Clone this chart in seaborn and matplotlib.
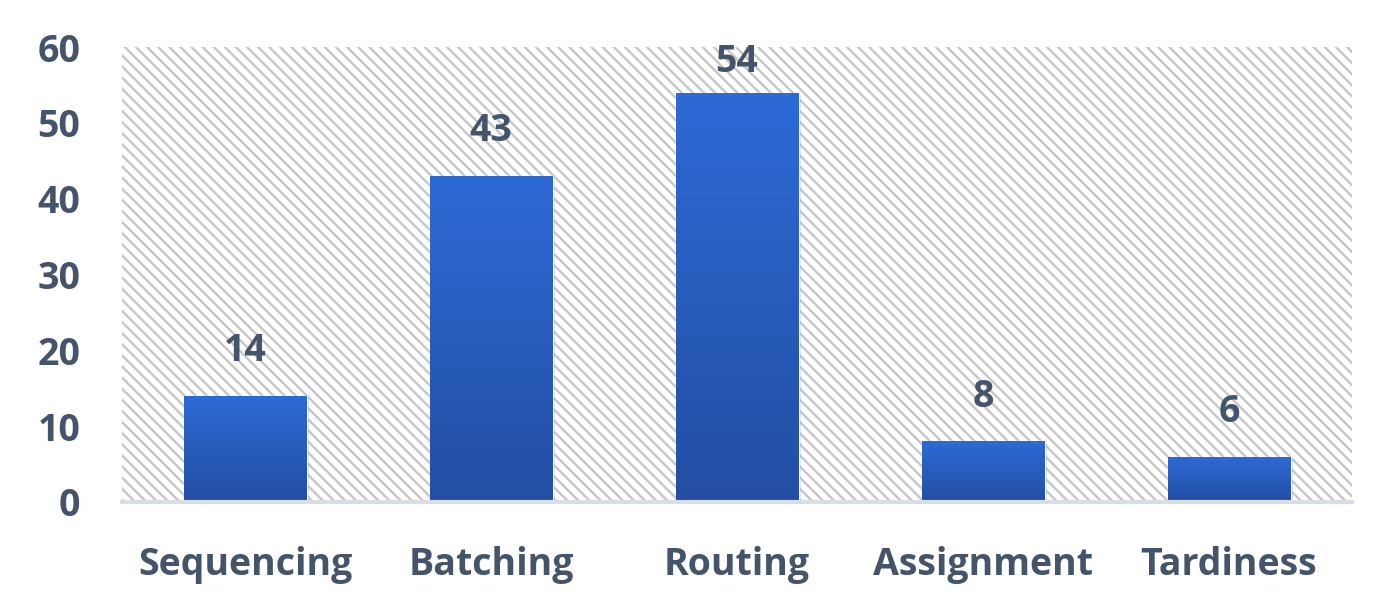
import numpy as np
import pandas as pd
import matplotlib.pyplot as plt
import matplotlib.colors as mcolors
import seaborn as sns

sns.set_theme(style="white")
plt.rcParams["font.family"] = ["Open Sans", "DejaVu Sans"]
plt.rcParams["hatch.linewidth"] = 1.7
plt.rcParams["hatch.color"] = "#c6c6c6"

# data
categories = ["Sequencing", "Batching", "Routing", "Assignment", "Tardiness"]
counts = [14, 43, 54, 8, 6]

TEXT = "#44546A"
YMAX = 60
df = pd.DataFrame({"category": categories, "count": counts})

fig = plt.figure(figsize=(13.77, 6.05), dpi=100)
ax = fig.add_axes([122 / 1377, 1 - 502 / 605, 1230 / 1377, 455 / 605])

sns.barplot(data=df, x="category", y="count", color="#2a5fc4",
            width=0.5, saturation=1, ax=ax, zorder=3)
bars = list(ax.patches)

# hatched background
ax.patch.set_facecolor("white")
bg = plt.Rectangle((0, 0), 1, 1, transform=ax.transAxes, facecolor="white",
                   edgecolor="#c6c6c6", hatch="\\\\\\", linewidth=0, zorder=0)
ax.add_patch(bg)

# gradient fill + labels on each bar
grad = mcolors.LinearSegmentedColormap.from_list("bar", ["#234ea3", "#2d6ad6"])
for p in bars:
    x0, y0 = p.get_x(), p.get_y()
    w, h = p.get_width(), p.get_height()
    # soft shadow
    ax.add_patch(plt.Rectangle((x0 + 0.01, y0 - 0.35), w, h, facecolor="#000000",
                               alpha=0.10, linewidth=0, zorder=2))
    img = ax.imshow(np.linspace(0, 1, 100).reshape(-1, 1), cmap=grad,
                    extent=[x0, x0 + w, y0, y0 + h], origin="lower",
                    aspect="auto", zorder=4)
    img.set_clip_path(p)
    p.set_facecolor("none")
    ax.text(x0 + w / 2, min(h + 3.4, YMAX - 4.5), f"{int(h)}",
            ha="center", va="bottom", fontsize=27, fontweight="bold",
            color=TEXT, zorder=6)

ax.set_ylim(0, YMAX)
ax.set_xlim(-0.5, len(categories) - 0.5)

for s in ["top", "right", "left"]:
    ax.spines[s].set_visible(False)
ax.spines["bottom"].set_color("#d9dee6")
ax.spines["bottom"].set_linewidth(3)
ax.spines["bottom"].set_zorder(5)

ax.set_yticks(range(0, YMAX + 1, 10))
ax.set_xlabel("")
ax.set_ylabel("")
ax.tick_params(axis="y", length=0, pad=30, labelsize=27, labelcolor=TEXT)
ax.tick_params(axis="x", length=0, pad=32, labelsize=27, labelcolor=TEXT)
for t in ax.get_xticklabels() + ax.get_yticklabels():
    t.set_fontweight("bold")
ax.grid(False)

fig.savefig("out.png", dpi=100)
